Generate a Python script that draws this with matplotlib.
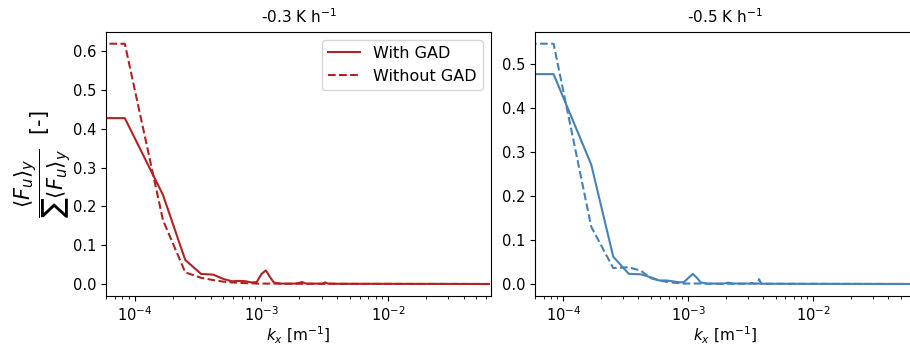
import matplotlib
matplotlib.use('Agg')
import matplotlib.pyplot as plt
import numpy as np

# wavenumber index (k = n * dk), domain length 75 km
L = 75000.0
n_idx = list(range(0, 51)) + [750]

titles = ['-0.3 K h$^{-1}$', '-0.5 K h$^{-1}$']
colors = ['#b22222', '#4682b4']

# normalised flux spectra, -0.3 K/h
red_gad = [0.428, 0.428, 0.230, 0.062, 0.026, 0.024, 0.013, 0.007, 0.008, 0.007,
           0.004, 0.005, 0.026, 0.035, 0.018, 0.004, 0.002, 0.001, 0.001, 0.001,
           0.001, 0.001, 0.001, 0.002, 0.003, 0.005, 0.003, 0.001, 0.001, 0.001,
           0.001, 0.001, 0.001, 0.001, 0.001, 0.001, 0.001, 0.002, 0.004, 0.003,
           0.001, 0.001, 0.001, 0.001, 0.001, 0.001, 0.0005, 0.0005, 0.0005, 0.0005,
           0.0005, 0.0]
red_nogad = [0.620, 0.620, 0.165, 0.030, 0.016, 0.010, 0.006, 0.004, 0.003, 0.002,
             0.002, 0.001, 0.001, 0.001, 0.001, 0.001, 0.001, 0.0005, 0.0005, 0.0005,
             0.0005, 0.0005, 0.0005, 0.0005, 0.0005, 0.0005, 0.0005, 0.0005, 0.0005, 0.0005,
             0.0003, 0.0003, 0.0003, 0.0003, 0.0003, 0.0003, 0.0003, 0.0003, 0.0003, 0.0003,
             0.0003, 0.0003, 0.0003, 0.0003, 0.0003, 0.0003, 0.0003, 0.0003, 0.0003, 0.0003,
             0.0003, 0.0]

# normalised flux spectra, -0.5 K/h
blue_gad = [0.476, 0.476, 0.271, 0.062, 0.023, 0.022, 0.015, 0.008, 0.008, 0.006,
            0.004, 0.004, 0.014, 0.023, 0.014, 0.004, 0.002, 0.001, 0.001, 0.001,
            0.001, 0.001, 0.001, 0.001, 0.002, 0.003, 0.002, 0.001, 0.001, 0.001,
            0.001, 0.001, 0.001, 0.001, 0.001, 0.001, 0.001, 0.001, 0.002, 0.002,
            0.001, 0.001, 0.001, 0.001, 0.001, 0.001, 0.0005, 0.0005, 0.0005, 0.0005,
            0.0005, 0.0]
blue_nogad = [0.545, 0.545, 0.130, 0.036, 0.038, 0.030, 0.013, 0.008, 0.005, 0.003,
              0.002, 0.001, 0.001, 0.001, 0.001, 0.001, 0.001, 0.0005, 0.0005, 0.0005,
              0.0005, 0.0005, 0.0005, 0.0005, 0.0005, 0.0005, 0.0005, 0.0005, 0.0005, 0.0005,
              0.0005, 0.0005, 0.0005, 0.0005, 0.0005, 0.0005, 0.0005, 0.0005, 0.001, 0.001,
              0.0005, 0.0005, 0.001, 0.004, 0.011, 0.005, 0.001, 0.0005, 0.0005, 0.0005,
              0.0005, 0.0]

k = 2 * np.pi / L * np.array(n_idx)

fig = plt.figure(figsize=(9.1, 3.45), dpi=100)
ax1 = fig.add_axes([106/910, 1 - 296/345, 385/910, (296 - 31.7)/345])
ax2 = fig.add_axes([535/910, 1 - 296/345, 380/910, (296 - 31.7)/345])

series = [(red_gad, red_nogad), (blue_gad, blue_nogad)]
for ax, (gad, nogad), col, title in zip([ax1, ax2], series, colors, titles):
    ax.plot(k, gad, color=col, lw=1.5, ls='-', label='With GAD')
    ax.plot(k, nogad, color=col, lw=1.5, ls='--', label='Without GAD')
    ax.set_xscale('log')
    ax.set_xlim(5.95e-5, 0.0652)
    ax.set_title(title, fontsize=11)
    ax.set_xlabel(r'$k_x$ [m$^{-1}$]', fontsize=11, labelpad=0)
    ax.tick_params(labelsize=10.5)

ax1.set_ylabel(r'$\dfrac{\langle F_u\rangle_y}{\sum\langle F_u\rangle_y}$  [-]', fontsize=15, labelpad=0)
ax1.legend(loc='upper right', fontsize=11.5)

plt.savefig('out.png', dpi=100)
plt.close()
